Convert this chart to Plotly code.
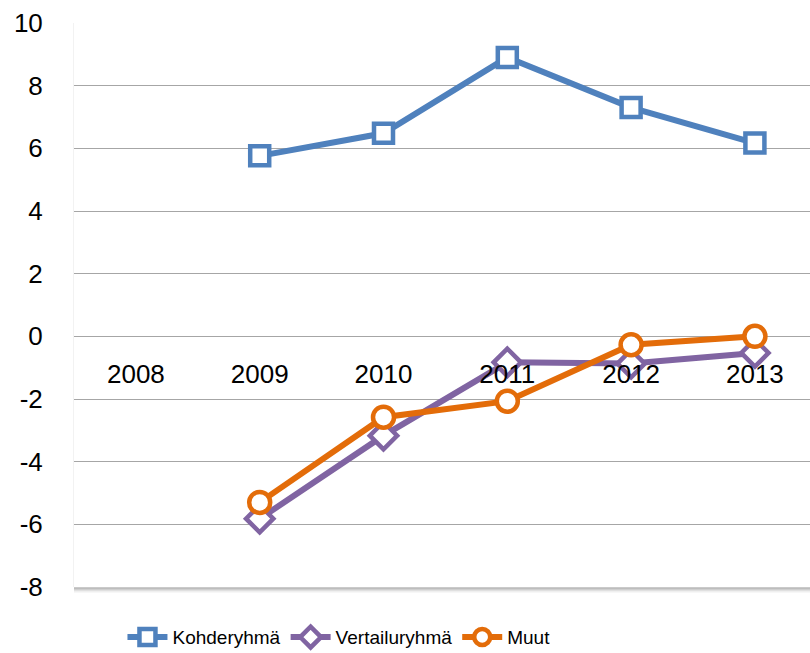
import plotly.graph_objects as go

years = ["2008", "2009", "2010", "2011", "2012", "2013"]
kohderyhma = [None, 5.76, 6.48, 8.9, 7.3, 6.17]
vertailuryhma = [None, -5.82, -3.17, -0.83, -0.87, -0.53]
muut = [None, -5.3, -2.58, -2.07, -0.27, 0.0]
y_ticks = [10, 8, 6, 4, 2, 0, -2, -4, -6, -8]
y_ticktext = [str(v) for v in y_ticks]

fig = go.Figure()
series = [
    ("Kohderyhmä", kohderyhma, "#4F81BD", "square", 19),
    ("Vertailuryhmä", vertailuryhma, "#8064A2", "diamond", 21),
    ("Muut", muut, "#E36C09", "circle", 21),
]
for name, vals, col, sym, sz in series:
    fig.add_trace(go.Scatter(
        x=years, y=vals, name=name, mode="lines+markers",
        line=dict(color=col, width=6),
        marker=dict(symbol=sym, size=sz, color="white", line=dict(color=col, width=4.5)),
        connectgaps=False,
    ))

# shadow under plot bottom
for k, g in enumerate([150, 175, 200, 222, 240]):
    off = (k + 1) * 0.00177
    fig.add_shape(type="line", xref="paper", yref="paper", x0=0, x1=1, y0=-off, y1=-off,
                  line=dict(color=f"rgb({g},{g},{g})", width=1.2))

fig.update_layout(
    width=810, height=653,
    margin=dict(l=74, r=0, t=23, b=66, autoexpand=False),
    paper_bgcolor="white", plot_bgcolor="white",
    font=dict(family="Liberation Sans, Arial, sans-serif", size=26, color="black"),
    showlegend=True,
    legend=dict(orientation="h", x=0.36, xanchor="center", y=-0.089, yanchor="middle",
                font=dict(family="Liberation Sans, Arial", size=19),
                itemwidth=40),
    xaxis=dict(type="category", categoryorder="array", categoryarray=years,
               range=[-0.5, 5.445], anchor="free", position=8/18, automargin=False,
               showline=False, showgrid=False, zeroline=False,
               ticks="outside", ticklen=14, tickcolor="rgba(0,0,0,0)"),
    yaxis=dict(range=[-8, 10], tickvals=y_ticks, ticktext=y_ticktext, automargin=False,
               showgrid=True, gridcolor="#A6A6A6", gridwidth=1.3,
               zeroline=False, showline=True, linecolor="#F2F2F2", linewidth=1,
               ticks="outside", ticklen=25, tickcolor="rgba(0,0,0,0)"),
)

fig.write_html("out.html", config={"displayModeBar": False},
               post_script="document.body.style.margin='0';")
